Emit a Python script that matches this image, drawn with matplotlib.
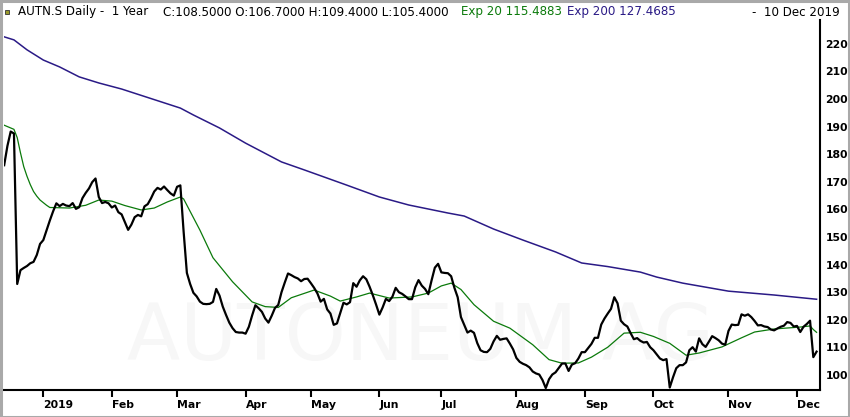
import numpy as np
import pandas as pd
import matplotlib
matplotlib.use('Agg')
import matplotlib.pyplot as plt
from matplotlib.patches import Rectangle

# SIX trading calendar, 1 year up to 10 Dec 2019
holidays = ['2018-12-24', '2018-12-25', '2018-12-26', '2018-12-31', '2019-01-01', '2019-01-02',
            '2019-04-19', '2019-04-22', '2019-05-01', '2019-05-30', '2019-06-10', '2019-08-01']
start_date = '2018-12-10'
end_date = '2019-12-10'

# daily close
close = [
    176, 183, 188.2, 187.5, 133, 138, 138.8, 139.5, 140.5, 141,
    143.5, 147.5, 148.9, 152.5, 156, 159.3, 162.2, 161.2, 162, 161.4,
    161.2, 162.3, 160.2, 160.8, 164.1, 166, 167.6, 169.9, 171.2, 164.5,
    162.3, 162.7, 162.2, 160.7, 161.4, 159, 158.2, 155.4, 152.6, 154.5,
    157.2, 158, 157.5, 161.1, 161.9, 164, 166.5, 167.8, 167.2, 168.3,
    167, 165.8, 165, 168.2, 168.7, 152, 137, 133, 129.8, 128.5,
    126.6, 125.8, 125.7, 125.8, 126.5, 131.2, 128.8, 124.8, 121.8, 119,
    117, 115.6, 115.4, 115.4, 115, 117.5, 121.6, 125.3, 124.2, 122.9,
    120.5, 119, 121.5, 124.3, 125.4, 130, 133.5, 136.8, 136.2, 135.5,
    135, 134, 134.8, 134.9, 133.3, 131.6, 129.6, 126.6, 127.6, 123.8,
    122.3, 118.2, 118.7, 122.5, 126.2, 125.6, 126.4, 133.3, 132, 134.3,
    135.8, 134.7, 132, 128.9, 125.5, 121.9, 124.5, 127.6, 126.8, 128.4,
    131.6, 130, 129.4, 128.5, 127.5, 127.5, 131.8, 134.4, 132.4, 131.2,
    129.3, 134.3, 138.9, 140.3, 137.2, 137, 136.9, 135.8, 131.6, 128.2,
    121, 118.2, 115.4, 116.1, 115.3, 111.6, 109, 108.4, 108.3, 109.5,
    112.2, 114.2, 112.8, 113.1, 113.3, 111.4, 109.3, 106.2, 104.8, 104.1,
    103.6, 102.8, 101.3, 100.6, 100.2, 98.2, 95.3, 98.5, 100.2, 101,
    102.6, 104.2, 104.2, 101.5, 103.8, 104.3, 106, 108.3, 108.3, 109.8,
    111.3, 113.5, 113.5, 118.3, 120.5, 122.3, 124, 128.2, 126, 119.7,
    118.4, 117.6, 115.2, 113, 113.4, 112.4, 111.8, 112, 110.1, 109,
    107.5, 106, 105.4, 105.8, 95.5, 99.2, 102.5, 103.6, 103.6, 104.6,
    109, 110.1, 108.5, 113.3, 111.2, 110.2, 112.1, 114.1, 113.4, 112.6,
    111.4, 111, 116, 118.3, 118.1, 118.2, 122, 121.5, 122, 121,
    119.6, 118, 118.1, 117.6, 117.4, 116.5, 116.2, 116.9, 117.5, 117.9,
    119.2, 118.9, 117.6, 117.8, 115.6, 117.5, 118.5, 119.7, 106.5, 108.5,
]

# Exp 20
ema20_dates = ['2018-12-10', '2018-12-13', '2018-12-14', '2018-12-17', '2018-12-18', '2018-12-19',
               '2018-12-20', '2018-12-21', '2018-12-27', '2018-12-28', '2019-01-04', '2019-01-07',
               '2019-01-15', '2019-01-22', '2019-01-28', '2019-02-01', '2019-02-07', '2019-02-14',
               '2019-02-20', '2019-02-26', '2019-03-04', '2019-03-05', '2019-03-12', '2019-03-18',
               '2019-03-26', '2019-04-03', '2019-04-09', '2019-04-15', '2019-04-23', '2019-05-03',
               '2019-05-10', '2019-05-15', '2019-05-22', '2019-05-28', '2019-06-06', '2019-06-18',
               '2019-06-25', '2019-07-01', '2019-07-04', '2019-07-09', '2019-07-15', '2019-07-23',
               '2019-07-30', '2019-08-09', '2019-08-16', '2019-08-22', '2019-08-29', '2019-09-04',
               '2019-09-11', '2019-09-18', '2019-09-25', '2019-10-01', '2019-10-08', '2019-10-15',
               '2019-10-21', '2019-10-30', '2019-11-07', '2019-11-13', '2019-11-21', '2019-12-03',
               '2019-12-06', '2019-12-09', '2019-12-10']
ema20 = [190.5, 189, 186, 180.5, 175.5, 172,
         169, 166.5, 164.8, 163.4, 161.5, 160.7,
         160.5, 161.5, 163.4, 163, 161.4, 159.8,
         160.5, 162.7, 164.5, 163.8, 152.5, 142.5,
         133.8, 126.5, 124.8, 124.5, 128, 130.8,
         128.6, 126.8, 128.3, 129.7, 127.9, 128.3,
         129.7, 132.3, 133.3, 131, 125.5, 119.5,
         117, 111, 105.6, 104.3, 104.4, 106.5,
         110.1, 115.2, 115.5, 114, 111.5, 107.2,
         108, 110.2, 113.5, 115.6, 116.7, 117.4,
         117.8, 116.5, 115.4883]

# Exp 200
ema200_dates = ['2018-12-10', '2018-12-13', '2018-12-19', '2019-01-03', '2019-01-10', '2019-01-18',
                '2019-01-28', '2019-02-06', '2019-03-04', '2019-03-08', '2019-03-20', '2019-04-01',
                '2019-04-16', '2019-04-29', '2019-05-17', '2019-06-03', '2019-06-17', '2019-07-03',
                '2019-07-10', '2019-07-23', '2019-08-06', '2019-08-20', '2019-08-30', '2019-09-11',
                '2019-09-25', '2019-10-02', '2019-10-14', '2019-11-01', '2019-11-21', '2019-12-10']
ema200 = [222.5, 221.4, 217.8, 214.1, 211.6, 208,
          205.8, 203.6, 196.7, 194.2, 189.5, 184,
          177.2, 174.3, 168.8, 164.5, 161.6, 158.7,
          157.6, 152.9, 148.9, 144.6, 140.6, 139.3,
          137.3, 135.5, 133.3, 130.4, 129, 127.4685]

y_ticks = [100, 110, 120, 130, 140, 150, 160, 170, 180, 190, 200, 210, 220]

header_name = 'AUTN.S Daily -  1 Year'
header_ohlc = 'C:108.5000 O:106.7000 H:109.4000 L:105.4000'
header_ema20 = 'Exp 20 115.4883'
header_ema200 = 'Exp 200 127.4685'
header_date = '-  10 Dec 2019'

# trading days -> x positions
days = pd.bdate_range(start_date, end_date)
days = days[~days.isin(pd.to_datetime(holidays))]
x = np.arange(len(days))
x20 = days.get_indexer(pd.to_datetime(ema20_dates))
x200 = days.get_indexer(pd.to_datetime(ema200_dates))

# first trading day of each month in 2019
first = pd.Series(x, index=days).groupby([days.year, days.month]).first()
first = first[first.index.get_level_values(0) == 2019]
month_pos = first.values
month_lab = ['2019' if m == 1 else pd.Timestamp(2019, m, 1).strftime('%b') for m in first.index.get_level_values(1)]

W, H = 850, 417
fig = plt.figure(figsize=(W / 100, H / 100), dpi=100)
ax = fig.add_axes([4 / W, 1 - 390 / H, 816 / W, 370 / H])

ax.plot(x200, ema200, color='#2a1a86', lw=1.1)
ax.plot(x20, ema20, color='#0b7a0b', lw=0.9)
ax.plot(x, close, color='black', lw=1.6)

ax.text(0.51, 0.14, 'AUTONEUM AG', transform=ax.transAxes, ha='center', va='center',
        fontsize=56, color='#f7f7f7', zorder=0)

ax.set_xlim(-0.05, 250.05)
ax.set_ylim(94.6, 228.6)
ax.set_yticks(y_ticks)
ax.yaxis.tick_right()
ax.tick_params(axis='y', length=0, pad=4, labelsize=7.8)
ax.set_xticks(month_pos)
ax.set_xticklabels(month_lab, ha='left')
ax.tick_params(axis='x', length=5, width=1.5, pad=2, labelsize=7.8)
for lab in ax.get_xticklabels() + ax.get_yticklabels():
    lab.set_fontweight('bold')

for s in ['top', 'left']:
    ax.spines[s].set_visible(False)
ax.spines['right'].set_linewidth(1.5)
ax.spines['bottom'].set_linewidth(1.5)

# header line
hy = 1 - 12 / H
fs = 8.6
fig.text(18 / W, hy, header_name, fontsize=fs, va='center', color='black')
fig.text(163 / W, hy, header_ohlc, fontsize=fs, va='center', color='black')
fig.text(461 / W, hy, header_ema20, fontsize=fs, va='center', color='#0b7a0b')
fig.text(567 / W, hy, header_ema200, fontsize=fs, va='center', color='#2a1a86')
fig.text(840 / W, hy, header_date, fontsize=fs, va='center', ha='right', color='black')
fig.patches.append(Rectangle((5 / W, 1 - 14 / H), 4 / W, 4 / H, transform=fig.transFigure,
                             facecolor='#9a9a2a', edgecolor='#333333', lw=0.6))

# window frame
fig.patches.append(Rectangle((0.5 / W, 0.5 / H), (W - 1.5) / W, (H - 1.5) / H, transform=fig.transFigure,
                             facecolor='none', edgecolor='#a9a9a9', lw=2.2))

fig.savefig('out.png', dpi=100)
